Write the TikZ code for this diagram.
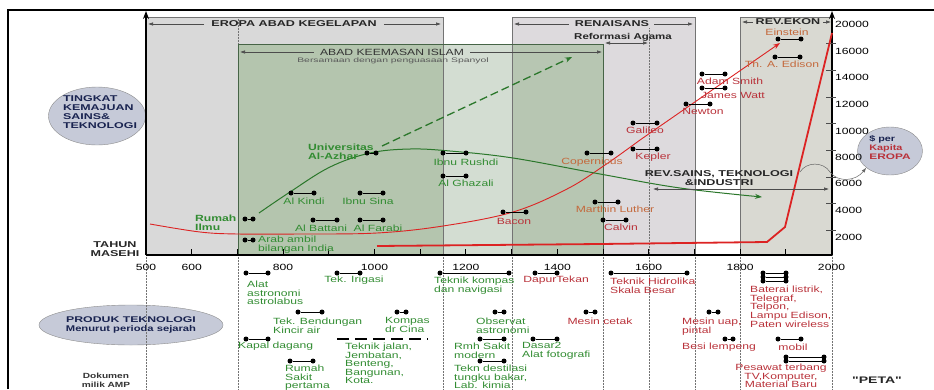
\documentclass[tikz,border=0pt]{standalone}
\usepackage{fontspec}
\setmainfont[FakeStretch=1.35]{Liberation Sans}
\newfontfamily\headfont[FakeStretch=1.48]{Liberation Sans}
\newfontfamily\kecilfont[FakeStretch=1.6]{Liberation Sans}
\usepackage{xcolor}
\usepackage{tikz}
\usetikzlibrary{arrows.meta,shapes.geometric}
\definecolor{gelap}{RGB}{217,217,217}
\definecolor{renais}{RGB}{221,218,221}
\definecolor{ekon}{RGB}{217,217,210}
\definecolor{islam}{RGB}{180,197,174}
\definecolor{islamlt}{RGB}{211,221,210}
\definecolor{islamrn}{RGB}{183,198,178}
\definecolor{tepi}{RGB}{70,100,70}
\definecolor{hijau}{RGB}{50,140,50}
\definecolor{merah}{RGB}{185,50,58}
\definecolor{coklat}{RGB}{196,105,60}
\definecolor{garis}{RGB}{220,35,35}
\definecolor{navy}{RGB}{25,35,80}
\definecolor{elipsbg}{RGB}{198,202,216}
\tikzset{
dot/.style = {circle, fill, minimum size=#1,
              inner sep=0pt, outer sep=0pt},
dot/.default = 5pt % diameter of the period dots
}
\tikzset{
lbl/.style = {inner sep=0pt, font=\fontsize{9}{8.8}\selectfont, align=left},
ilmu/.style = {lbl, text=hijau},
eropa/.style = {lbl, text=merah},
tokoh/.style = {lbl, text=coklat},
judul/.style = {inner sep=0pt, text=black!85, font=\headfont\bfseries\fontsize{8.5}{9}\selectfont},
panah/.style = {->, line width=0.6pt, black!70},
batas/.style = {densely dotted, line width=0.5pt, black!55},
elips/.style = {ellipse, draw=black!45, fill=elipsbg, inner sep=0pt}
}
\newcommand{\periode}[4]{%
  \node[dot] (#1a) at (#2,#4) {};
  \node[dot] (#1b) at (#3,#4) {};
  \draw[line width=0.6pt] (#1a) -- (#1b);}

\begin{document}
\begin{tikzpicture}[x=1pt, y=-1pt, >={Latex[length=5pt,width=3.5pt]}]
\useasboundingbox (0,0) rectangle (934,389);
\draw[line width=1.3pt] (8,389) -- (8,10) -- (934,10);

% zaman
\fill[gelap] (146,17) rectangle (443,255);
\fill[renais] (512,17) rectangle (695,255);
\fill[ekon] (740,17) rectangle (832,255);
\fill[islam] (238,44) rectangle (443,255);
\fill[islamlt] (443,44) rectangle (512,255);
\fill[islamrn] (512,44) rectangle (603,255);
\draw[black!55] (146,17) rectangle (443,255);
\draw[black!55] (512,17) rectangle (695,255);
\draw[black!55] (740,17) rectangle (832,255);
\draw[tepi] (238,255) -- (238,44) -- (603,44) -- (603,255);

% ellipses
\node[elips, minimum width=97pt, minimum height=58pt] (tingkat) at (97,116) {};
\node[inner sep=0pt, align=left, text=navy, font=\headfont\bfseries\fontsize{8.4}{9}\selectfont] (tingkatteks) at (100,112.5) {TINGKAT\\KEMAJUAN\\SAINS\&\\TEKNOLOGI};
\node[elips, minimum width=153pt, minimum height=40pt, align=center, text=navy, font=\bfseries\fontsize{8.3}{9}\selectfont] (produk) at (131,325) {{\headfont PRODUK TEKNOLOGI}\\Menurut perioda sejarah};
\node[elips, minimum width=65pt, minimum height=48pt] (kapita) at (890,151) {};
\node[inner sep=0pt, align=left, font=\bfseries\fontsize{8}{9}\selectfont] (kapitateks) at (890,148) {\textcolor{navy}{\$ per}\\\textcolor{merah}{Kapita}\\\textcolor{merah}{\headfont EROPA}};

% garis batas
\foreach \x in {146,238,443,512,603,649,695,740,832}
  \draw[batas] (\x,255) -- (\x,389);
\draw[batas] (238,17) -- (238,44);
\draw[batas] (649,28) -- (649,255);

% sumbu
\draw[line width=1.5pt] (146,255) -- (832,255);
\draw[line width=1.5pt, -{Stealth[length=8pt,width=6pt]}] (146,255) -- (146,11);
\draw[line width=1.5pt, -{Stealth[length=8pt,width=6pt]}] (832,255) -- (832,11);
\foreach \t in {600,700,...,1900}
  \draw[line width=1pt] ({146+(\t-500)*0.457},255) -- ++(0,-6);
\foreach \t in {500,600,800,1000,1200,1400,1600,1800,2000}
  \node[lbl] (th\t) at ({146+(\t-500)*0.457},267) {\t};
\foreach \y in {43,70,97,123,150,177,203,230}
  \draw[black!70] (826,\y) -- (836,\y);
\foreach \v/\y in {20000/24,16000/51,14000/77,12000/104,10000/131,8000/157,6000/183,4000/210,2000/237}
  \node[lbl, anchor=west] (usd\v) at (835,\y) {\v};

% kurva
\draw[garis, line width=0.9pt, -{Stealth[length=7pt,width=5pt]}] plot[smooth, tension=0.6] coordinates {(150,224) (200,232) (238,234) (300,234) (377,233) (443,226) (513,212) (567,189) (605,165) (640,140)} -- (780,43);
\draw[garis, line width=1.8pt] (377,246) -- (600,244) -- (767,242) -- (785,227) -- (832,33);
\draw[hijau!85!black, line width=1pt, -{Stealth[length=7pt,width=5pt]}] plot[smooth, tension=0.6] coordinates {(259,213) (290,192) (330,167) (370,153) (410,149) (450,151) (513,158) (600,174) (680,188) (762,197)};
\draw[hijau!85!black, line width=1.3pt, dash pattern=on 8pt off 4pt, -{Stealth[length=7pt,width=5pt]}] (382,146) -- (572,57);

% judul zaman
\node[judul] (kegelapan) at (294,24) {EROPA ABAD KEGELAPAN};
\draw[panah] ([xshift=-7pt]kegelapan.west) -- (148,24);
\draw[panah] ([xshift=7pt]kegelapan.east) -- (441,24);
\node[inner sep=0pt, text=black!80, font=\fontsize{9}{9}\selectfont] (keemasan) at (392,52) {ABAD KEEMASAN ISLAM};
\draw[panah] ([xshift=-6pt]keemasan.west) -- (240,52);
\draw[panah] ([xshift=6pt]keemasan.east) -- (602,52);
\node[inner sep=0pt, text=black!65, font=\kecilfont\fontsize{6.5}{7}\selectfont] (spanyol) at (393,61) {Bersamaan dengan penguasaan Spanyol};
\node[judul] (renaisans) at (612,24) {RENAISANS};
\draw[panah] ([xshift=-6pt]renaisans.west) -- (514,24);
\draw[panah] ([xshift=5pt]renaisans.east) -- (693,24);
\node[inner sep=0pt, text=black!85, font=\bfseries\fontsize{8.5}{9}\selectfont] (reformasi) at (623,37) {Reformasi Agama};
\draw[<->, line width=0.6pt, black!70] (605,43) -- (648,43);
\node[judul] (revekon) at (788,22) {REV.EKON};
\draw[panah] ([xshift=-3pt]revekon.west) -- (742,22);
\draw[panah] ([xshift=3pt]revekon.east) -- (831,22);
\node[judul, align=center] (revsains) at (719,178.5) {REV.SAINS, TEKNOLOGI\\\&INDUSTRI};
\draw[<->, line width=0.6pt, black!70] (653,189) -- (829,189);
\draw[black!60, line width=0.5pt, ->] (800,172) .. controls (806,162) and (823,161) .. (830,172) .. controls (838,183) and (856,181) .. (kapita.215);

% tokoh ilmu
\periode{rumah}{245}{253}{219}
\node[ilmu, anchor=north west, font=\bfseries\fontsize{9}{9}\selectfont] (trumah) at (195,214.5) {Rumah\\Ilmu};
\periode{arab}{245}{253}{240}
\node[ilmu, anchor=north west] (tarab) at (258,235.5) {Arab ambil\\bilangan India};
\periode{kindi}{291}{314}{193}
\node[ilmu] (tkindi) at (304,201) {Al Kindi};
\periode{battani}{313}{337}{220}
\node[ilmu] (tbattani) at (321,228) {Al Battani};
\periode{sina}{360}{383}{193}
\node[ilmu] (tsina) at (368,201) {Ibnu Sina};
\periode{farabi}{360}{383}{220}
\node[ilmu] (tfarabi) at (378,228) {Al Farabi};
\periode{azhar}{367}{376}{153}
\node[ilmu, anchor=north west, font=\bfseries\fontsize{9}{9}\selectfont] (tazhar) at (308,143.5) {Universitas\\Al-Azhar};
\periode{rushdi}{443}{466}{153}
\node[ilmu] (trushdi) at (466,162) {Ibnu Rushdi};
\periode{ghazali}{443}{466}{176}
\node[ilmu] (tghazali) at (466,183) {Al Ghazali};
\periode{bacon}{503}{526}{212}
\node[eropa] (tbacon) at (514,221) {Bacon};
\periode{copernicus}{587}{611}{153}
\node[tokoh] (tcopernicus) at (592,162) {Copernicus};
\periode{luther}{595}{618}{202}
\node[tokoh] (tluther) at (615,209) {Marthin Luther};
\periode{calvin}{603}{626}{220}
\node[eropa] (tcalvin) at (621,227) {Calvin};
\periode{galileo}{633}{657}{123}
\node[eropa] (tgalileo) at (645,130) {Galileo};
\periode{kepler}{633}{657}{149}
\node[eropa] (tkepler) at (653,157) {Kepler};
\periode{newton}{686}{710}{104}
\node[eropa] (tnewton) at (703,111) {Newton};
\periode{watt}{702}{725}{88}
\node[eropa] (twatt) at (733,95) {James Watt};
\periode{smith}{702}{725}{74}
\node[eropa] (tsmith) at (730,81) {Adam Smith};
\periode{edison}{775}{800}{57}
\node[tokoh] (tedison) at (782,64) {Th. A. Edison};
\periode{einstein}{778}{801}{39}
\node[tokoh] (teinstein) at (787,32) {Einstein};

% produk teknologi
\periode{astrolabus}{246}{268}{273}
\node[ilmu, anchor=north west] (tastrolabus) at (247,280.5) {Alat\\astronomi\\astrolabus};
\periode{bendungan}{298}{322}{312}
\node[ilmu, anchor=north west] (tbendungan) at (273,317.5) {Tek. Bendungan\\Kincir air};
\periode{kapal}{246}{268}{339}
\node[ilmu, anchor=west] (tkapal) at (238,346) {Kapal dagang};
\periode{rsakit}{290}{313}{361}
\node[ilmu, anchor=north west] (trsakit) at (285,364.5) {Rumah\\Sakit\\pertama};
\periode{irigasi}{337}{360}{273}
\node[ilmu] (tirigasi) at (354,280) {Tek. Irigasi};
\periode{kompas}{397}{406}{312}
\node[ilmu, anchor=north west] (tkompas) at (385,317.5) {Kompas\\dr Cina};
\coordinate (jalana) at (337,339);
\coordinate (jalanb) at (428,339);
\draw[line width=2pt, dash pattern=on 12pt off 6pt] (jalana) -- (jalanb);
\node[ilmu, anchor=north west, font=\fontsize{9}{8.3}\selectfont] (tjalan) at (345,342.5) {Teknik jalan,\\Jembatan,\\Benteng,\\Bangunan,\\Kota.};
\periode{navigasi}{440}{509}{273}
\node[ilmu, anchor=north west] (tnavigasi) at (434,276.5) {Teknik kompas\\dan navigasi};
\periode{dapur}{535}{557}{273}
\node[eropa] (tdapur) at (556,280) {DapurTekan};
\periode{observat}{495}{504}{312}
\node[ilmu, anchor=north west] (tobservat) at (476,317.5) {Observat\\astronomi};
\periode{cetak}{586}{595}{312}
\node[eropa] (tcetak) at (600,321) {Mesin cetak};
\periode{rsmodern}{480}{504}{339}
\node[ilmu, anchor=north west] (trsmodern) at (454,342.5) {Rmh Sakit\\modern};
\periode{foto}{533}{557}{339}
\node[ilmu, anchor=north west] (tfoto) at (522,342.5) {Dasar2\\Alat fotografi};
\periode{destilasi}{480}{504}{361}
\node[ilmu, anchor=north west] (tdestilasi) at (454,364.5) {Tekn destilasi\\tungku bakar,\\Lab. kimia};
\periode{hidrolika}{611}{687}{273}
\node[eropa, anchor=north west] (thidrolika) at (610,277.5) {Teknik Hidrolika\\Skala Besar};
\periode{baterai}{763}{786}{273}
\periode{telegraf}{763}{786}{277}
\periode{telpon}{763}{786}{281}
\node[eropa, anchor=north west] (tbaterai) at (750,285.5) {Baterai listrik,\\Telegraf,\\Telpon,\\Lampu Edison,\\Paten wireless};
\periode{uap}{709}{718}{312}
\node[eropa, anchor=north west] (tuap) at (682,317.5) {Mesin uap,\\pintal};
\periode{besi}{725}{733}{339}
\node[eropa] (tbesi) at (719,347) {Besi lempeng};
\periode{mobil}{778}{801}{339}
\node[eropa] (tmobil) at (793,347) {mobil};
\periode{pesawat}{786}{824}{357}
\periode{komputer}{786}{824}{361}
\node[eropa, anchor=north, align=center] (tpesawat) at (781,363.5) {Pesawat terbang\\TV,Komputer,\\Material Baru};

% lain-lain
\node[judul, align=center] (tahun) at (115,249) {TAHUN\\MASEHI};
\node[inner sep=0pt, align=center, text=black!80, font=\bfseries\fontsize{7.5}{8.5}\selectfont] (dokumen) at (106,380.5) {Dokumen\\milik AMP};
\node[judul, font=\headfont\bfseries\fontsize{9.5}{10}\selectfont] (peta) at (877,380) {"PETA"};
\end{tikzpicture}
\end{document}
